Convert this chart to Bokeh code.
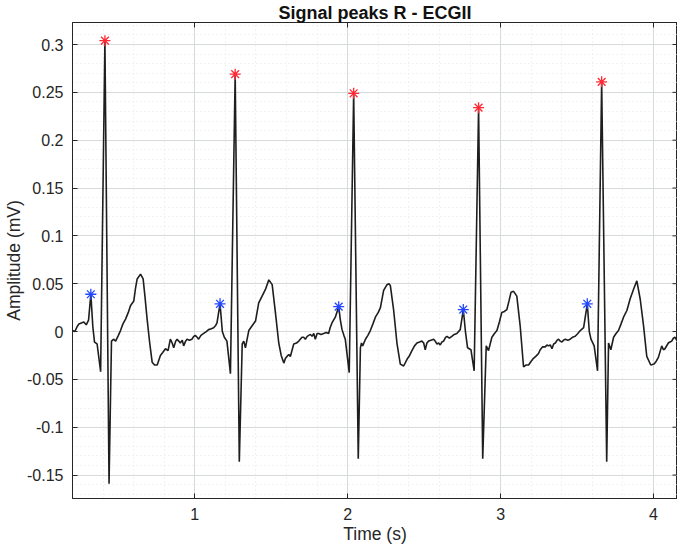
import numpy as np
from bokeh.plotting import figure
from bokeh.models import Range1d, LinearAxis, FixedTicker
from bokeh.embed import file_html
from bokeh.resources import INLINE

# ---------------- data ----------------
time_s = [
    0.200, 0.215, 0.230, 0.242, 0.258, 0.274, 0.290, 0.305, 0.320, 0.333,
    0.344, 0.361, 0.384, 0.412, 0.439, 0.455, 0.470, 0.482, 0.500, 0.514,
    0.530, 0.547, 0.565, 0.579, 0.601, 0.612, 0.623, 0.645, 0.662, 0.675,
    0.688, 0.705, 0.721, 0.737, 0.754, 0.775, 0.790, 0.808, 0.825, 0.840,
    0.852, 0.862, 0.875, 0.884, 0.895, 0.905, 0.918, 0.927, 0.940, 0.949,
    0.965, 0.981, 0.993, 1.003, 1.015, 1.025, 1.040, 1.058, 1.075, 1.090,
    1.108, 1.123, 1.135, 1.145, 1.165, 1.180, 1.193, 1.210, 1.233, 1.264,
    1.291, 1.310, 1.320, 1.331, 1.353, 1.375, 1.397, 1.418, 1.440, 1.462,
    1.484, 1.506, 1.527, 1.549, 1.565, 1.582, 1.593, 1.603, 1.615, 1.625,
    1.647, 1.665, 1.680, 1.701, 1.712, 1.723, 1.735, 1.745, 1.756, 1.767,
    1.778, 1.788, 1.800, 1.810, 1.825, 1.843, 1.860, 1.875, 1.885, 1.897,
    1.919, 1.941, 1.952, 1.963, 1.975, 1.984, 2.010, 2.039, 2.069, 2.083,
    2.090, 2.098, 2.116, 2.132, 2.148, 2.165, 2.181, 2.200, 2.214, 2.235,
    2.257, 2.270, 2.279, 2.300, 2.322, 2.344, 2.366, 2.388, 2.405, 2.420,
    2.437, 2.453, 2.470, 2.485, 2.497, 2.507, 2.518, 2.529, 2.545, 2.562,
    2.572, 2.584, 2.595, 2.605, 2.616, 2.627, 2.640, 2.649, 2.665, 2.681,
    2.697, 2.714, 2.736, 2.756, 2.770, 2.784, 2.806, 2.827, 2.856, 2.883,
    2.906, 2.921, 2.943, 2.960, 2.976, 2.992, 3.008, 3.025, 3.041, 3.055,
    3.068, 3.085, 3.106, 3.128, 3.150, 3.165, 3.183, 3.200, 3.215, 3.230,
    3.248, 3.259, 3.275, 3.292, 3.303, 3.314, 3.325, 3.336, 3.347, 3.358,
    3.370, 3.379, 3.390, 3.401, 3.412, 3.423, 3.440, 3.455, 3.470, 3.488,
    3.505, 3.521, 3.543, 3.567, 3.580, 3.591, 3.612, 3.634, 3.661, 3.694,
    3.706, 3.721, 3.739, 3.755, 3.771, 3.788, 3.804, 3.826, 3.847, 3.869,
    3.891, 3.913, 3.935, 3.956, 3.982, 4.004, 4.018, 4.032, 4.054, 4.065,
    4.075, 4.097, 4.108, 4.119, 4.130, 4.140, 4.152, 4.162, 4.175, 4.184,
    4.200,
]
amplitude_mv = [
    0.001, 0.000, 0.005, 0.008, 0.009, 0.010, 0.007, 0.012, 0.039, 0.005,
    -0.011, -0.013, -0.042, 0.304, -0.159, -0.010, -0.008, -0.010, -0.004, 0.001,
    0.008, 0.013, 0.020, 0.027, 0.032, 0.045, 0.055, 0.060, 0.055, 0.035,
    0.013, -0.012, -0.032, -0.035, -0.035, -0.025, -0.022, -0.018, -0.020, -0.008,
    -0.012, -0.017, -0.010, -0.008, -0.010, -0.012, -0.009, -0.015, -0.010, -0.008,
    -0.009, -0.008, -0.005, -0.004, -0.006, -0.008, -0.004, -0.002, 0.000, 0.002,
    0.003, 0.004, 0.006, 0.009, 0.029, 0.000, -0.006, -0.010, -0.044, 0.269,
    -0.136, -0.013, -0.010, -0.017, 0.001, 0.006, 0.011, 0.030, 0.037, 0.044,
    0.054, 0.049, 0.020, -0.012, -0.025, -0.033, -0.028, -0.026, -0.024, -0.026,
    -0.013, -0.012, -0.010, -0.006, -0.006, -0.008, -0.005, -0.004, -0.003, -0.005,
    -0.002, -0.008, -0.002, -0.002, -0.003, -0.002, -0.001, -0.002, 0.004, 0.009,
    0.015, 0.026, 0.012, 0.002, -0.004, -0.008, -0.043, 0.249, -0.133, -0.017,
    -0.012, -0.015, -0.008, -0.004, 0.001, 0.008, 0.015, 0.020, 0.025, 0.043,
    0.049, 0.050, 0.048, 0.023, -0.012, -0.034, -0.036, -0.029, -0.025, -0.020,
    -0.015, -0.012, -0.011, -0.010, -0.012, -0.019, -0.012, -0.010, -0.009, -0.008,
    -0.010, -0.013, -0.012, -0.014, -0.011, -0.010, -0.006, -0.005, -0.007, -0.005,
    -0.003, -0.002, 0.002, 0.023, 0.000, -0.017, -0.019, -0.041, 0.234, -0.133,
    -0.015, -0.020, -0.006, -0.002, 0.001, 0.010, 0.020, 0.021, 0.023, 0.032,
    0.041, 0.042, 0.037, 0.006, -0.037, -0.035, -0.035, -0.031, -0.028, -0.026,
    -0.023, -0.019, -0.016, -0.016, -0.014, -0.015, -0.014, -0.018, -0.013, -0.012,
    -0.009, -0.008, -0.010, -0.011, -0.009, -0.008, -0.009, -0.008, -0.006, -0.005,
    -0.002, 0.001, 0.004, 0.029, 0.000, -0.008, -0.015, -0.041, 0.261, -0.136,
    -0.012, -0.019, -0.006, -0.002, 0.001, 0.008, 0.015, 0.022, 0.034, 0.044,
    0.053, 0.034, 0.006, -0.026, -0.035, -0.034, -0.031, -0.027, -0.015, -0.019,
    -0.018, -0.012, -0.011, -0.010, -0.007, -0.006, -0.009, -0.008, -0.005, -0.004,
    -0.003,
]
r_peak_t = [0.412, 1.264, 2.039, 2.856, 3.661]
r_peak_v = [0.304, 0.269, 0.249, 0.234, 0.261]
p_peak_t = [0.320, 1.165, 1.941, 2.756, 3.567]
p_peak_v = [0.039, 0.029, 0.026, 0.023, 0.029]

x_ticks = [1, 2, 3, 4]
x_tick_labels = ["1", "2", "3", "4"]
y_ticks = [-0.15, -0.1, -0.05, 0, 0.05, 0.1, 0.15, 0.2, 0.25, 0.3]
y_tick_labels = ["-0.15", "-0.1", "-0.05", "0", "0.05", "0.1", "0.15", "0.2", "0.25", "0.3"]

title_text = "Signal peaks R - ECGII"
x_label = "Time (s)"
y_label = "Amplitude (mV)"

# ---------------- styling ----------------
FONT = "Liberation Sans"
AX_COLOR = "#262626"
GRID = "#d6dada"
MINOR_GRID = "#e6e6e6"
X0, X1 = 0.2, 4.157
Y0, Y1 = -0.1745, 0.323
W, H = 677, 546
BL, BR = 72, 0

x_minor = [round(v, 2) for v in np.arange(0.2, 4.21, 0.2)]
y_minor = [round(v, 3) for v in np.arange(-0.17, 0.321, 0.01)]

p = figure(
    width=W, height=H,
    x_range=Range1d(X0, X1), y_range=Range1d(Y0, Y1),
    output_backend="svg", toolbar_location=None,
    min_border_left=BL, min_border_right=BR, min_border_top=0, min_border_bottom=48,
    background_fill_color="white", border_fill_color="white",
)
p.outline_line_color = AX_COLOR
p.outline_line_width = 1

xt = FixedTicker(ticks=x_ticks, minor_ticks=x_minor)
yt = FixedTicker(ticks=y_ticks, minor_ticks=y_minor)

p.title.text = title_text
p.title.text_font = FONT
p.title.text_font_size = "18px"
p.title.text_font_style = "bold"
p.title.text_color = "#111111"
p.title.align = "center"
p.title.standoff = 0
p.title.offset = 0

for ax, ticks, labels, tk in ((p.xaxis[0], x_ticks, x_tick_labels, xt),
                              (p.yaxis[0], y_ticks, y_tick_labels, yt)):
    ax.ticker = tk
    ax.major_label_overrides = {t: l for t, l in zip(ticks, labels)}
    ax.major_label_text_font = FONT
    ax.major_label_text_font_size = "16px"
    ax.major_label_text_color = AX_COLOR
    ax.axis_label_text_font = FONT
    ax.axis_label_text_font_size = "17.5px"
    ax.axis_label_text_font_style = "normal"
    ax.axis_label_text_color = AX_COLOR
    ax.axis_line_color = AX_COLOR
    ax.major_tick_line_color = AX_COLOR
    ax.major_tick_in = 5
    ax.major_tick_out = 0
    ax.minor_tick_in = 0
    ax.minor_tick_out = 0

p.xaxis[0].axis_label = x_label
p.yaxis[0].axis_label = y_label
p.xaxis[0].major_label_standoff = 9
p.xaxis[0].axis_label_standoff = 1
p.yaxis[0].major_label_standoff = 9
p.yaxis[0].axis_label_standoff = 0

# box on: inward ticks on the right edge (5 px long, derived from the range) and top axis
frame_w_px = W - BL - BR
tick_dx = (X1 - X0) * 5.0 / frame_w_px
p.segment(x0=[X1] * len(y_ticks), y0=y_ticks, x1=[X1 - tick_dx] * len(y_ticks), y1=y_ticks,
          line_color=AX_COLOR, line_width=1)
top_ax = LinearAxis(ticker=xt, major_label_text_font_size="1px", major_label_text_color=None,
                    major_label_standoff=0,
                    major_tick_in=5, major_tick_out=0, minor_tick_in=0, minor_tick_out=0,
                    axis_line_color=AX_COLOR, major_tick_line_color=AX_COLOR)
p.add_layout(top_ax, "above")

p.xgrid.ticker = xt
p.ygrid.ticker = yt
for g in (p.xgrid[0], p.ygrid[0]):
    g.grid_line_color = GRID
    g.grid_line_width = 1
    g.minor_grid_line_color = MINOR_GRID
    g.minor_grid_line_dash = "1 3"
    g.minor_grid_line_width = 1

p.line(time_s, amplitude_mv, line_color="#1e1e1e", line_width=1.6)
p.scatter(r_peak_t, r_peak_v, marker="asterisk", size=11, line_color="#ff2a35", line_width=1.3)
p.scatter(p_peak_t, p_peak_v, marker="asterisk", size=11, line_color="#2248ff", line_width=1.3)

open("out.html", "w").write(file_html(p, INLINE))
